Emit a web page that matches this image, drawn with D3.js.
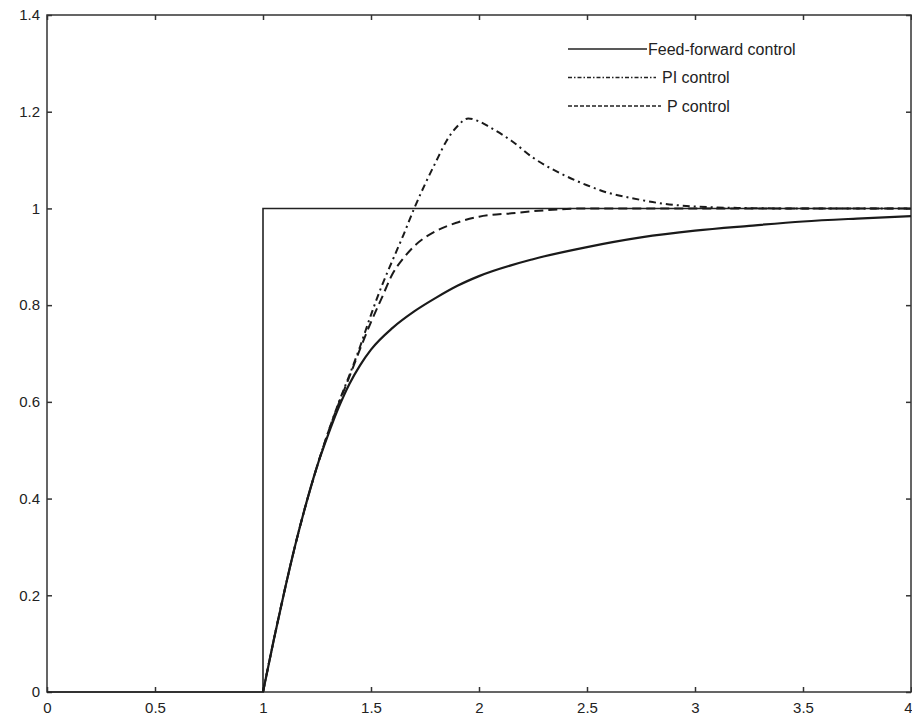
<!DOCTYPE html>
<html>
<head>
<meta charset="utf-8">
<script src="https://cdn.jsdelivr.net/npm/d3@7"></script>
<style>
  body { margin: 0; background: #fff; }
  #canvas { width: 912px; height: 719px; }
  .tick text { font-family: Arial, "Liberation Sans", sans-serif; font-size: 15px; fill: #222; }
  .legend text { font-family: Arial, "Liberation Sans", sans-serif; font-size: 16px; fill: #222; }
</style>
</head>
<body>
<div id="canvas" class="canvas"></div>
<script>
// --- data
var xTicks = [0, 0.5, 1, 1.5, 2, 2.5, 3, 3.5, 4];
var yTicks = [0, 0.2, 0.4, 0.6, 0.8, 1, 1.2, 1.4];

// reference step input
var refX = [0, 1, 1, 4];
var refY = [0, 0, 1, 1];

// feed-forward control
var ffX = [1, 1.05, 1.1, 1.15, 1.2, 1.25, 1.3, 1.35, 1.4, 1.45, 1.5, 1.6, 1.7, 1.8, 1.9, 2, 2.25, 2.5, 2.75, 3, 3.25, 3.5, 3.75, 4];
var ffY = [0, 0.108, 0.21, 0.305, 0.39, 0.466, 0.53, 0.588, 0.637, 0.676, 0.708, 0.753, 0.787, 0.815, 0.84, 0.86, 0.895, 0.92, 0.94, 0.954, 0.964, 0.973, 0.979, 0.984];

// PI control
var piX = [1, 1.05, 1.1, 1.15, 1.2, 1.25, 1.3, 1.35, 1.4, 1.45, 1.5, 1.55, 1.6, 1.65, 1.7, 1.75, 1.8, 1.85, 1.9, 1.95, 2, 2.05, 2.15, 2.25, 2.375, 2.5, 2.6, 2.7, 2.85, 3, 3.2, 3.45, 4];
var piY = [0, 0.108, 0.21, 0.305, 0.39, 0.466, 0.535, 0.598, 0.655, 0.715, 0.78, 0.84, 0.893, 0.945, 1.0, 1.05, 1.096, 1.14, 1.17, 1.186, 1.18, 1.168, 1.14, 1.105, 1.073, 1.048, 1.032, 1.022, 1.01, 1.004, 1.001, 1.0, 1.0];

// P control
var pX = [1, 1.05, 1.1, 1.15, 1.2, 1.25, 1.3, 1.35, 1.4, 1.45, 1.5, 1.55, 1.6, 1.65, 1.7, 1.8, 1.9, 2, 2.15, 2.3, 2.5, 4];
var pY = [0, 0.108, 0.21, 0.305, 0.39, 0.466, 0.535, 0.596, 0.652, 0.71, 0.765, 0.815, 0.865, 0.897, 0.922, 0.953, 0.971, 0.983, 0.99, 0.996, 1.0, 1.0];

var legendNames = ['Feed-forward control', 'PI control', 'P control'];

// --- Margin convention
var M = {top: 15, right: 1, bottom: 27, left: 47};
var outerWidth = 912, outerHeight = 719;
var w = outerWidth - M.left - M.right,
    h = outerHeight - M.top - M.bottom;

var svg = d3.select('.canvas')
  .append('svg')
  .attr('width', outerWidth)
  .attr('height', outerHeight);

var plot = svg.append('g')
  .attr('transform', 'translate(' + M.left + ',' + M.top + ')');

// --- scales
var scaleX = d3.scaleLinear().domain([0, 4]).range([0, w]);
var scaleY = d3.scaleLinear().domain([0, 1.4]).range([h, 0]);

function fmt(d) { return String(d); }

// --- axes (ticks point inward, like matlab)
var xAxisG = plot.append('g')
  .attr('transform', 'translate(0,' + h + ')')
  .call(d3.axisBottom(scaleX).tickValues(xTicks).tickFormat(fmt).tickSize(-5).tickPadding(10));
// last label sits on the window edge, keep it inside
xAxisG.selectAll('.tick text')
  .filter(function(d) { return d === 4; })
  .attr('text-anchor', 'end')
  .attr('dx', 1);

plot.append('g')
  .call(d3.axisTop(scaleX).tickValues(xTicks).tickFormat('').tickSize(-5));
plot.append('g')
  .call(d3.axisLeft(scaleY).tickValues(yTicks).tickFormat(fmt).tickSize(-5).tickPadding(7));
plot.append('g')
  .attr('transform', 'translate(' + w + ',0)')
  .call(d3.axisRight(scaleY).tickValues(yTicks).tickFormat('').tickSize(-5));

plot.selectAll('.domain').remove();
plot.selectAll('.tick line').attr('stroke', '#333').attr('stroke-width', 1.5);

plot.append('rect')
  .attr('width', w)
  .attr('height', h)
  .attr('fill', 'none')
  .attr('stroke', '#333')
  .attr('stroke-width', 1.5);

// --- lines
function toPts(xs, ys) {
  return xs.map(function(d, i) { return [d, ys[i]]; });
}
var straight = d3.line()
  .x(function(d) { return scaleX(d[0]); })
  .y(function(d) { return scaleY(d[1]); });
var smooth = d3.line()
  .x(function(d) { return scaleX(d[0]); })
  .y(function(d) { return scaleY(d[1]); })
  .curve(d3.curveMonotoneX);

plot.append('path')
  .attr('d', straight(toPts(refX, refY)))
  .attr('stroke', '#222')
  .attr('stroke-width', 1.6)
  .attr('fill', 'none');

plot.append('path')
  .attr('d', smooth(toPts(ffX, ffY)))
  .attr('stroke', '#1a1a1a')
  .attr('stroke-width', 2.2)
  .attr('fill', 'none');

plot.append('path')
  .attr('d', smooth(toPts(piX, piY)))
  .attr('stroke', '#1a1a1a')
  .attr('stroke-width', 2)
  .attr('stroke-dasharray', '7,4,2,4')
  .attr('fill', 'none');

plot.append('path')
  .attr('d', smooth(toPts(pX, pY)))
  .attr('stroke', '#1a1a1a')
  .attr('stroke-width', 2)
  .attr('stroke-dasharray', '9,5')
  .attr('fill', 'none');

// --- legend
var legend = svg.append('g').attr('class', 'legend');
var legDash = [null, '4,2,1.5,2', '4,2'];
var legEnd = [647, 656, 661];
legendNames.forEach(function(name, i) {
  var y = 49 + i * 28.5;
  legend.append('line')
    .attr('x1', 568).attr('x2', legEnd[i])
    .attr('y1', y).attr('y2', y)
    .attr('stroke', '#222')
    .attr('stroke-width', 1.5)
    .attr('stroke-dasharray', legDash[i]);
  legend.append('text')
    .attr('x', legEnd[i] + (i === 0 ? 1 : 6))
    .attr('y', y)
    .attr('dy', '0.35em')
    .text(name);
});
</script>
</body>
</html>
